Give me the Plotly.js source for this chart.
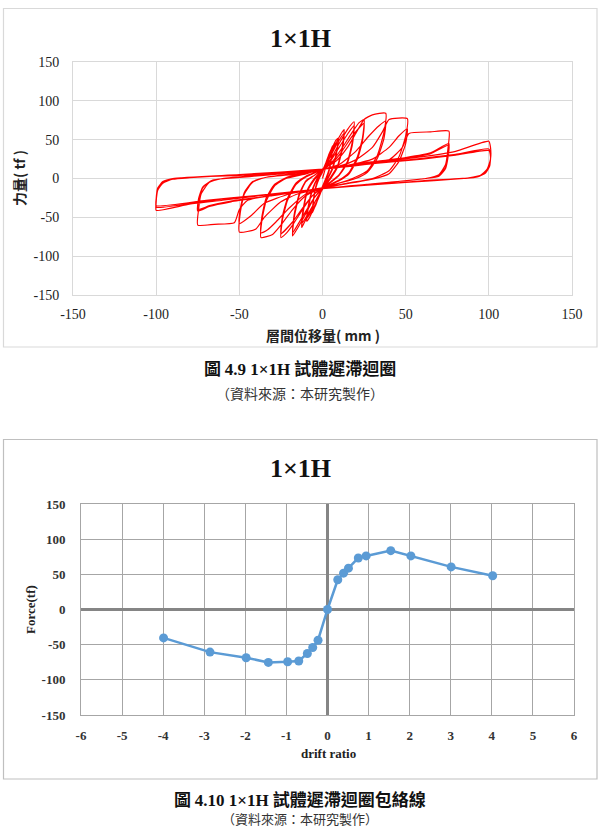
<!DOCTYPE html>
<html>
<head>
<meta charset="utf-8">
<script src="https://cdn.plot.ly/plotly-3.0.1.min.js"></script>
<style>html,body{margin:0;padding:0;background:#fff;}#chart{width:600px;height:831px;}</style>
</head>
<body>
<div id="chart"></div>
<script>
// ---------- Hysteresis data (story drift in mm, force in tf), read per drift level ----------
const dispL1  = [0, 2, 4, 6, 5.5, 4, 2, 0, -2, -4, -6, -5.5, -4, -2, 0, 2, 4, 6, 5.5, 4, 2, 0, -2, -4, -6, -5.5, -4, -2, 0];
const forceL1 = [0, 15, 30, 42, 30, 12, 0, -10, -20, -33, -44, -30, -12, 0, 8, 20, 32, 40, 28, 10, -2, -12, -22, -34, -41, -28, -10, 2, 10];

const dispL2  = [3, 6, 8, 9.5, 8.5, 6, 3, 0, -3, -6, -8, -9.5, -8.5, -6, -3, 0, 3, 6, 9.5, 8.5, 6, 3, 0, -3, -6, -9.5, -8.5, -6, -3, 0];
const forceL2 = [25, 40, 49, 52, 35, 14, 0, -12, -28, -42, -51, -55, -38, -15, 0, 10, 24, 38, 50, 33, 12, -1, -13, -28, -40, -52, -35, -13, 1, 11];

const dispL3  = [4, 8, 11, 13, 12, 9, 5, 0, -4, -8, -11, -12.5, -11.5, -9, -5, 0, 4, 8, 13, 12, 9, 5, 0, -4, -8, -12.5, -11.5, -9, -5, 0];
const forceL3 = [27, 45, 57, 63, 42, 16, 2, -13, -28, -45, -57, -63, -42, -16, -2, 11, 25, 42, 58, 38, 14, 0, -14, -28, -43, -58, -38, -14, 0, 12];

const dispL4  = [5, 10, 15, 19, 18, 15, 10, 5, 0, -5, -10, -15, -18, -17, -14, -10, -5, 0,
                 5, 10, 15, 19, 18, 15, 10, 5, 0, -5, -10, -15, -18, -17, -14, -10, -5, 0];
const forceL4 = [25, 45, 63, 73, 48, 22, 5, -4, -12, -25, -45, -64, -74, -50, -22, -4, 4, 12,
                 23, 40, 57, 68, 44, 20, 4, -5, -13, -25, -42, -60, -70, -46, -20, -3, 4, 12];

const dispL5  = [6, 12, 18, 22, 25, 24, 21, 16, 10, 0, -6, -12, -18, -22, -25, -24, -21, -16, -10, 0,
                 6, 12, 18, 25, 24, 21, 16, 10, 0, -6, -12, -18, -25, -24, -21, -16, -10, 0];
const forceL5 = [22, 40, 60, 72, 76, 52, 28, 8, -2, -12, -22, -40, -60, -71, -76, -52, -28, -8, 2, 12,
                 20, 36, 55, 71, 48, 25, 6, -3, -13, -22, -38, -56, -71, -48, -25, -6, 3, 12];

const dispL6  = [8, 15, 20, 25, 30, 38, 37, 33, 27, 20, 10, 0, -10, -18, -25, -30, -37, -36.5, -34, -29, -22, -10, 0,
                 10, 20, 28, 34, 38, 37, 33, 27, 20, 0, -10, -20, -28, -33, -37, -36.5, -34, -29, -22, 0];
const forceL6 = [22, 40, 58, 76, 82, 84, 60, 30, 10, 2, -6, -12, -22, -40, -60, -72, -76, -55, -30, -10, 0, 6, 12,
                 18, 35, 55, 68, 74, 52, 26, 8, 0, -12, -20, -38, -56, -66, -70, -50, -26, -8, 1, 12];

const dispL7  = [10, 20, 30, 36, 40, 51, 50, 46, 40, 30, 15, 0, -15, -25, -35, -40, -50, -49.5, -47, -42, -35, -15, 0,
                 15, 30, 40, 46, 51, 50, 46, 40, 30, 0, -20, -35, -43, -50, -49.5, -47, -42, -35, 0];
const forceL7 = [16, 24, 40, 60, 76, 77, 55, 28, 10, 0, -6, -12, -20, -30, -50, -65, -69, -45, -20, -5, 1, 6, 12,
                 17, 25, 40, 55, 64, 45, 22, 6, -1, -12, -20, -32, -48, -58, -40, -18, -4, 1, 12];

const dispL8  = [20, 40, 48, 52, 65, 76, 75.5, 74, 70, 62, 40, 20, 0, -25, -45, -50, -53, -65, -75, -74.5, -73, -68, -60, -30, 0,
                 25, 50, 65, 76, 75.5, 74, 70, 62, 30, 0, -30, -55, -68, -75, -74.5, -72, -66, -58, -30, 0,
                 25, 50, 65, 76, 75.5, 74, 70, 62, 30, 0, -30, -55, -68, -75, -74.5, -72, -66, -58, -30, 0];
const forceL8 = [18, 24, 40, 58, 60, 61, 40, 18, 5, 0, -5, -9, -13, -20, -28, -40, -57, -59, -60, -40, -20, -5, 0, 6, 12,
                 20, 27, 33, 45, 30, 14, 4, 0, -7, -13, -22, -30, -36, -42, -28, -12, -2, 0, 5, 12,
                 19, 26, 32, 43, 28, 13, 3, 0, -7, -13, -22, -29, -35, -40, -26, -11, -2, 0, 5, 12];

const dispL9  = [30, 60, 80, 100, 101, 101, 99, 95, 88, 60, 30, 0, -30, -60, -80, -100, -100, -99, -96, -90, -80, -40, 0,
                 30, 60, 80, 100, 101, 100.5, 98, 93, 85, 50, 0, -40, -70, -100, -100, -99, -96, -90, -50, 0,
                 30, 60, 80, 100, 101, 100.5, 98, 93, 85, 50, 0, -40, -70, -100, -100, -99, -96, -90, -50, 0];
const forceL9 = [20, 28, 35, 48, 40, 25, 12, 4, 1, -3, -8, -13, -20, -28, -33, -41, -30, -15, -6, -1, 1, 6, 12,
                 19, 26, 31, 38, 30, 18, 8, 2, 0, -5, -13, -22, -29, -37, -27, -13, -5, 0, 5, 12,
                 19, 25, 30, 36, 28, 16, 7, 2, 0, -5, -13, -22, -28, -35, -26, -12, -4, 0, 4, 11];

// ---------- Envelope data (drift ratio %, force tf) ----------
const driftRatio = [-3.99, -2.86, -1.98, -1.44, -0.97, -0.70, -0.49, -0.36, -0.23, 0, 0.25, 0.39, 0.51, 0.75, 0.94, 1.54, 2.03, 3.01, 4.02];
const envForce   = [-40.4, -60.6, -68.6, -75.2, -74.3, -73.3, -62.5, -54.1, -43.7, 0, 42.3, 51.7, 58.8, 73.3, 76.2, 83.7, 76.2, 60.6, 48.0];

// ---------- Tick values / labels ----------
const ticks150Vals = [-150, -100, -50, 0, 50, 100, 150];
const ticks150Text = ['-150', '-100', '-50', '0', '50', '100', '150'];
const ticksDriftVals = [-6, -5, -4, -3, -2, -1, 0, 1, 2, 3, 4, 5, 6];
const ticksDriftText = ['-6', '-5', '-4', '-3', '-2', '-1', '0', '1', '2', '3', '4', '5', '6'];

// ---------- Text ----------
const title1 = '1×1H';
const title2 = '1×1H';
const xTitle1 = '層間位移量( mm )';
const yTitle1 = '力量( tf )';
const xTitle2 = 'drift ratio';
const yTitle2 = 'Force(tf)';
const caption1Parts = ['圖 ', '4.9 1×1H', ' 試體遲滯迴圈'];
const caption2Parts = ['圖 ', '4.10 1×1H', ' 試體遲滯迴圈包絡線'];
const source = '（資料來源：本研究製作）';

const hystX = [].concat(dispL1, dispL2, dispL3, dispL4, dispL5, dispL6, dispL7, dispL8, dispL9);
const hystY = [].concat(forceL1, forceL2, forceL3, forceL4, forceL5, forceL6, forceL7, forceL8, forceL9);

const W = 600, H = 831;
const px = v => v / W;
const py = v => 1 - v / H;

const serif = 'Liberation Serif, Times New Roman, serif';
const cjk = 'Noto Sans CJK TC, Noto Sans CJK SC, sans-serif';

function caption(parts) {
  return '<b>' + parts[0] + '<span style="font-family:Liberation Serif">' + parts[1] + '</span>' + parts[2] + '</b>';
}

const traces = [
  {x: hystX, y: hystY, type: 'scatter', mode: 'lines', xaxis: 'x', yaxis: 'y',
   line: {color: '#FF0000', width: 1.2, shape: 'spline', smoothing: 0.5}, hoverinfo: 'skip'},
  {x: driftRatio, y: envForce, type: 'scatter', mode: 'lines+markers', xaxis: 'x2', yaxis: 'y2',
   line: {color: '#5B9BD5', width: 2.5}, marker: {color: '#5B9BD5', size: 9}}
];

const layout = {
  width: W, height: H,
  margin: {l: 0, r: 0, t: 0, b: 0},
  paper_bgcolor: '#ffffff', plot_bgcolor: '#ffffff',
  showlegend: false,
  xaxis: {domain: [px(73), px(572)], anchor: 'y', range: [-150, 150], tickmode: 'array',
          tickvals: ticks150Vals, ticktext: ticks150Text,
          showgrid: true, gridcolor: '#D9D9D9', gridwidth: 1, zeroline: true, zerolinecolor: '#D9D9D9', zerolinewidth: 1,
          showline: true, mirror: true, linecolor: '#D9D9D9', linewidth: 1,
          ticks: 'outside', ticklen: 6, tickcolor: 'rgba(0,0,0,0)',
          tickfont: {family: serif, size: 14, color: '#222'}, fixedrange: true},
  yaxis: {domain: [py(295), py(62)], anchor: 'x', range: [-150, 150], tickmode: 'array',
          tickvals: ticks150Vals, ticktext: ticks150Text,
          showgrid: true, gridcolor: '#D9D9D9', gridwidth: 1, zeroline: true, zerolinecolor: '#D9D9D9', zerolinewidth: 1,
          showline: true, mirror: true, linecolor: '#D9D9D9', linewidth: 1,
          ticks: 'outside', ticklen: 10, tickcolor: 'rgba(0,0,0,0)',
          tickfont: {family: serif, size: 14, color: '#222'}, fixedrange: true},
  xaxis2: {domain: [px(81), px(574)], anchor: 'y2', range: [-6, 6], tickmode: 'array',
          tickvals: ticksDriftVals, ticktext: ticksDriftText,
          showgrid: true, gridcolor: '#A6A6A6', gridwidth: 1, zeroline: true, zerolinecolor: '#858585', zerolinewidth: 3,
          showline: true, mirror: true, linecolor: '#A6A6A6', linewidth: 1,
          ticks: 'outside', ticklen: 8, tickcolor: 'rgba(0,0,0,0)',
          tickfont: {family: serif, size: 13, color: '#333', weight: 'bold'}, fixedrange: true},
  yaxis2: {domain: [py(715), py(504)], anchor: 'x2', range: [-150, 150], tickmode: 'array',
          tickvals: ticks150Vals, ticktext: ticks150Text,
          showgrid: true, gridcolor: '#A6A6A6', gridwidth: 1, zeroline: true, zerolinecolor: '#858585', zerolinewidth: 3,
          showline: true, mirror: true, linecolor: '#A6A6A6', linewidth: 1,
          ticks: 'outside', ticklen: 12, tickcolor: 'rgba(0,0,0,0)',
          tickfont: {family: serif, size: 13, color: '#333', weight: 'bold'}, fixedrange: true},
  shapes: [
    {type: 'rect', xref: 'paper', yref: 'paper', x0: px(3.5), x1: px(597), y0: py(347), y1: py(8.5),
     line: {color: '#D9D9D9', width: 1.2}, fillcolor: 'rgba(0,0,0,0)', layer: 'below'},
    {type: 'rect', xref: 'paper', yref: 'paper', x0: px(3.5), x1: px(597), y0: py(779), y1: py(439.5),
     line: {color: '#BFBFBF', width: 1.2}, fillcolor: 'rgba(0,0,0,0)', layer: 'below'}
  ],
  annotations: [
    {text: '<b>' + title1 + '</b>', xref: 'paper', yref: 'paper', x: px(300), y: py(38), showarrow: false,
     xanchor: 'center', yanchor: 'middle', font: {family: serif, size: 26, color: '#111'}},
    {text: '<b>' + xTitle1 + '</b>', xref: 'paper', yref: 'paper', x: px(323), y: py(335), showarrow: false,
     xanchor: 'center', yanchor: 'middle', font: {family: cjk, size: 14, color: '#222'}},
    {text: '<b>' + yTitle1 + '</b>', xref: 'paper', yref: 'paper', x: px(19), y: py(178), showarrow: false,
     textangle: -90, xanchor: 'center', yanchor: 'middle', font: {family: cjk, size: 14, color: '#222'}},
    {text: caption(caption1Parts), xref: 'paper', yref: 'paper', x: px(300), y: py(367), showarrow: false,
     xanchor: 'center', yanchor: 'middle', font: {family: cjk, size: 17, color: '#111'}},
    {text: source, xref: 'paper', yref: 'paper', x: px(300), y: py(393), showarrow: false,
     xanchor: 'center', yanchor: 'middle', font: {family: cjk, size: 14, color: '#333'}},
    {text: '<b>' + title2 + '</b>', xref: 'paper', yref: 'paper', x: px(300), y: py(468), showarrow: false,
     xanchor: 'center', yanchor: 'middle', font: {family: serif, size: 26, color: '#111'}},
    {text: '<b>' + xTitle2 + '</b>', xref: 'paper', yref: 'paper', x: px(328), y: py(753), showarrow: false,
     xanchor: 'center', yanchor: 'middle', font: {family: serif, size: 13, color: '#222'}},
    {text: '<b>' + yTitle2 + '</b>', xref: 'paper', yref: 'paper', x: px(30), y: py(610), showarrow: false,
     textangle: -90, xanchor: 'center', yanchor: 'middle', font: {family: serif, size: 13, color: '#222'}},
    {text: caption(caption2Parts), xref: 'paper', yref: 'paper', x: px(300), y: py(798), showarrow: false,
     xanchor: 'center', yanchor: 'middle', font: {family: cjk, size: 17, color: '#111'}},
    {text: source, xref: 'paper', yref: 'paper', x: px(300), y: py(830), showarrow: false,
     xanchor: 'center', yanchor: 'bottom', font: {family: cjk, size: 13, color: '#333'}}
  ]
};

Plotly.newPlot('chart', traces, layout, {displayModeBar: false, staticPlot: true});
</script>
</body>
</html>
